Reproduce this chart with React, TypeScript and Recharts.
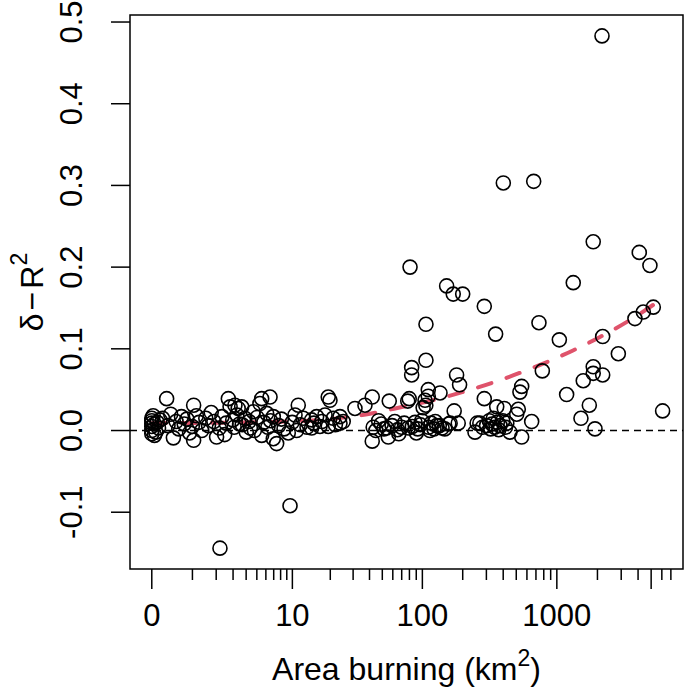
import React from 'react';
import { ComposedChart, Scatter, Line, XAxis, YAxis, ReferenceLine, ReferenceArea } from 'recharts';

const FONT = '"Liberation Sans", Arial, Helvetica, sans-serif';

// x values are log10(area + 1), area in km^2
const logArea = [
  0.00, 0.00, 0.00, 0.00, 0.00, 0.02, 0.03, 0.01, 0.04, 0.05, 0.00, 0.02, 0.06, 0.11, 0.08,
  0.12, 0.14, 0.16, 0.18, 0.20, 0.22, 0.24, 0.26, 0.28, 0.30, 0.31, 0.31, 0.33, 0.35, 0.37,
  0.40, 0.42, 0.44, 0.46, 0.48, 0.50, 0.505, 0.52, 0.54, 0.55, 0.567, 0.58, 0.60, 0.61, 0.616,
  0.63, 0.64, 0.65,
  0.666, 0.67, 0.69, 0.70, 0.72, 0.73, 0.752, 0.76, 0.78, 0.801, 0.814, 0.814, 0.83, 0.851, 0.86,
  0.876, 0.88, 0.90, 0.90, 0.925, 0.94, 0.96, 0.98,
  1.011, 1.024, 1.04, 1.061, 1.073, 1.085, 1.10, 1.122, 1.15, 1.184, 1.184, 1.20, 1.221, 1.246,
  1.26, 1.283, 1.307, 1.307, 1.32, 1.344, 1.36, 1.394, 1.394, 1.418,
  1.505, 1.579, 1.633, 1.633, 1.64, 1.66, 1.68, 1.70, 1.72, 1.74, 1.752, 1.759, 1.78, 1.80, 1.82,
  1.83, 1.85, 1.87, 1.896, 1.90, 1.907, 1.913, 1.925, 1.925, 1.93, 1.95, 1.96, 1.97, 1.99, 2.00,
  2.01, 2.024, 2.03, 2.031, 2.031, 2.048, 2.048, 2.05, 2.06, 2.07, 2.09, 2.10, 2.11, 2.13, 2.135,
  2.15, 2.17, 2.184, 2.20, 2.21, 2.233, 2.24, 2.258, 2.27, 2.28, 2.303,
  2.394, 2.41, 2.43, 2.45, 2.463, 2.463, 2.48, 2.50, 2.51, 2.52, 2.53, 2.54, 2.547, 2.555, 2.56,
  2.57, 2.58, 2.60, 2.604, 2.611, 2.62, 2.63, 2.653, 2.703, 2.715, 2.727, 2.74, 2.74, 2.814, 2.829,
  2.868, 2.893,
  3.019, 3.073, 3.122, 3.179, 3.196, 3.241, 3.27, 3.27, 3.27, 3.283, 3.335, 3.34, 3.34, 3.456,
  3.579, 3.611, 3.641, 3.69, 3.715, 3.784,
];

const deltaR2 = [
  0.012, 0.005, -0.004, 0.015, 0.000, 0.008, -0.002, 0.018, 0.010, 0.003, 0.009, -0.006, 0.013, 0.039, 0.015,
  0.006, 0.020, -0.009, 0.011, 0.002, 0.017, 0.008, 0.014, -0.003, 0.005, 0.031, -0.012, 0.018, 0.010, 0.000,
  0.015, 0.006, 0.022, 0.011, -0.008, 0.003, -0.144, 0.017, -0.005, 0.009, 0.039, 0.029, 0.013, 0.004, 0.031,
  0.019, 0.027, 0.008,
  0.029, 0.007, 0.015, -0.002, 0.011, 0.003, 0.023, 0.000, 0.016, 0.033, 0.039, -0.006, 0.010, 0.021, 0.004,
  0.041, 0.012, 0.017, -0.010, -0.016, 0.006, 0.014, 0.002,
  -0.003, -0.092, 0.010, 0.019, 0.000, 0.031, 0.007, 0.015, 0.004, 0.013, 0.003, 0.009, 0.017, 0.005,
  0.011, 0.019, 0.041, 0.005, 0.037, 0.015, 0.007, 0.009, 0.017, 0.011,
  0.027, 0.031, 0.041, -0.013, 0.004, 0.000, 0.012, 0.008, 0.002, 0.003, -0.008, 0.036, 0.006, 0.011, 0.001,
  -0.004, 0.004, 0.009, 0.036, 0.003, 0.039, 0.200, 0.077, 0.068, 0.005, 0.010, -0.003, 0.002, 0.007, 0.012,
  0.028, 0.037, 0.031, 0.130, 0.086, 0.050, 0.042, 0.004, 0.000, 0.009, 0.002, 0.011, 0.006, 0.006, 0.046,
  0.003, 0.002, 0.177, 0.008, 0.009, 0.167, 0.024, 0.068, 0.009, 0.056, 0.167,
  -0.002, 0.009, 0.009, 0.004, 0.039, 0.152, 0.006, 0.012, 0.002, 0.008, 0.015, 0.004, 0.118, 0.029, 0.010,
  0.001, 0.006, 0.012, 0.303, 0.027, 0.004, 0.009, -0.002, 0.020, 0.026, 0.047, 0.054, -0.008, 0.011, 0.305,
  0.132, 0.073,
  0.111, 0.044, 0.181, 0.015, 0.061, 0.031, 0.231, 0.078, 0.070, 0.002, 0.483, 0.068, 0.115, 0.094,
  0.137, 0.218, 0.145, 0.202, 0.151, 0.024,
];

// fitted trend curve
const fitLogArea = [0, 0.5, 1.0, 1.25, 1.56, 1.86, 2.08, 2.3, 2.55, 2.78, 3.12, 3.32, 3.52, 3.787];
const fitDelta = [0.009, 0.0095, 0.011, 0.013, 0.019, 0.029, 0.037, 0.047, 0.06, 0.074, 0.098, 0.1145, 0.133, 0.162];

const xLabelValues = [0, 10, 100, 1000];
const xMajorValues = [0, 10, 100, 1000, 5000];
const xMinorValues = [
  1, 2, 3, 4, 5, 6, 7, 8, 9,
  20, 30, 40, 50, 60, 70, 80, 90,
  200, 300, 400, 500, 600, 700, 800, 900,
  2000, 3000, 4000, 6000, 7000,
];
const yTicks = [-0.1, 0, 0.1, 0.2, 0.3, 0.4, 0.5];
const yTickLabels = ['-0.1', '0.0', '0.1', '0.2', '0.3', '0.4', '0.5'];

const xDomain: [number, number] = [-0.1614, 3.935];
const yDomain: [number, number] = [-0.1695, 0.5086];

const toLog = (v: number) => Math.log10(v + 1);

const pointData = logArea.map((x, i) => ({ x, y: deltaR2[i] }));
const fitData = fitLogArea.map((x, i) => ({ x, y: fitDelta[i] }));

const xTickSpecs = [
  ...xMajorValues.map((v) => ({ pos: toLog(v), major: true, label: xLabelValues.includes(v) ? String(v) : '' })),
  ...xMinorValues.map((v) => ({ pos: toLog(v), major: false, label: '' })),
].sort((a, b) => a.pos - b.pos);

const FS = 31;
const TFS = 32;

const XTick = (props: any) => {
  const { x, y, payload } = props;
  const spec = xTickSpecs.find((s) => Math.abs(s.pos - payload.value) < 1e-9);
  if (!spec) return null;
  return (
    <g>
      <line x1={x} x2={x} y1={y} y2={y + (spec.major ? 20 : 11)} stroke="#000" strokeWidth={1.5} />
      {spec.label ? (
        <text x={x} y={y + 46} textAnchor="middle" dominantBaseline="central" fontSize={FS} fontFamily={FONT} fill="#000">
          {spec.label}
        </text>
      ) : null}
    </g>
  );
};

const YTick = (props: any) => {
  const { x, y, payload } = props;
  const idx = yTicks.findIndex((t) => Math.abs(t - payload.value) < 1e-9);
  const label = idx >= 0 ? yTickLabels[idx] : '';
  const tx = x - 58;
  return (
    <g>
      <line x1={x - 19} x2={x} y1={y} y2={y} stroke="#000" strokeWidth={1.5} />
      <text
        x={tx}
        y={y}
        transform={`rotate(-90, ${tx}, ${y})`}
        textAnchor="middle"
        dominantBaseline="central"
        fontSize={FS}
        fontFamily={FONT}
        fill="#000"
      >
        {label}
      </text>
    </g>
  );
};

const XTitle = (props: any) => {
  const vb = props.viewBox || { x: 130, y: 569, width: 553, height: 119 };
  const cx = vb.x + vb.width / 2;
  const by = vb.y + 111;
  return (
    <text x={cx} y={by} textAnchor="middle" fontSize={TFS} fontFamily={FONT} fill="#000">
      Area burning (km<tspan dy={-14} fontSize={23}>2</tspan><tspan dy={14}>)</tspan>
    </text>
  );
};

const YTitle = (props: any) => {
  const vb = props.viewBox || { x: 0, y: 15, width: 130, height: 554 };
  const cx = 32;
  const cy = vb.y + vb.height / 2;
  return (
    <text
      x={cx}
      y={cy}
      transform={`rotate(-90, ${cx}, ${cy})`}
      textAnchor="middle"
      dominantBaseline="central"
      fontSize={TFS}
      fontFamily={FONT}
      fill="#000"
    >
      δ<tspan dx={3}>−</tspan><tspan dx={3}>R</tspan><tspan dy={-13} fontSize={23}>2</tspan>
    </text>
  );
};

const Circle = (props: any) => {
  const { cx, cy } = props;
  if (cx == null || cy == null) return null;
  return <circle cx={cx} cy={cy} r={7} fill="none" stroke="#000" strokeWidth={1.6} />;
};

export default function App() {
  return (
    <div style={{ position: 'absolute', left: 0, top: 0, background: '#fff' }}>
      <ComposedChart width={685} height={688} margin={{ top: 15, right: 2, bottom: 0, left: 0 }}>
        <XAxis
          type="number"
          dataKey="x"
          domain={xDomain}
          allowDataOverflow
          ticks={xTickSpecs.map((s) => s.pos)}
          interval={0}
          tick={<XTick />}
          tickLine={false}
          axisLine={false}
          tickSize={0}
          tickMargin={0}
          height={119}
          label={<XTitle />}
        />
        <YAxis
          type="number"
          dataKey="y"
          domain={yDomain}
          allowDataOverflow
          ticks={yTicks}
          interval={0}
          tick={<YTick />}
          tickLine={false}
          axisLine={false}
          tickSize={0}
          tickMargin={0}
          width={130}
          label={<YTitle />}
        />
        <Scatter data={pointData} shape={<Circle />} isAnimationActive={false} />
        <ReferenceLine y={0} stroke="#000" strokeWidth={1.5} strokeDasharray="7 5" />
        <Line
          data={fitData}
          dataKey="y"
          type="monotone"
          stroke="#DF536B"
          strokeWidth={4}
          strokeDasharray="14 16"
          strokeLinecap="round"
          dot={false}
          activeDot={false}
          isAnimationActive={false}
        />
        <ReferenceArea
          x1={xDomain[0]}
          x2={xDomain[1]}
          y1={yDomain[0]}
          y2={yDomain[1]}
          fill="none"
          stroke="#000"
          strokeWidth={1.5}
          ifOverflow="visible"
        />
      </ComposedChart>
    </div>
  );
}
